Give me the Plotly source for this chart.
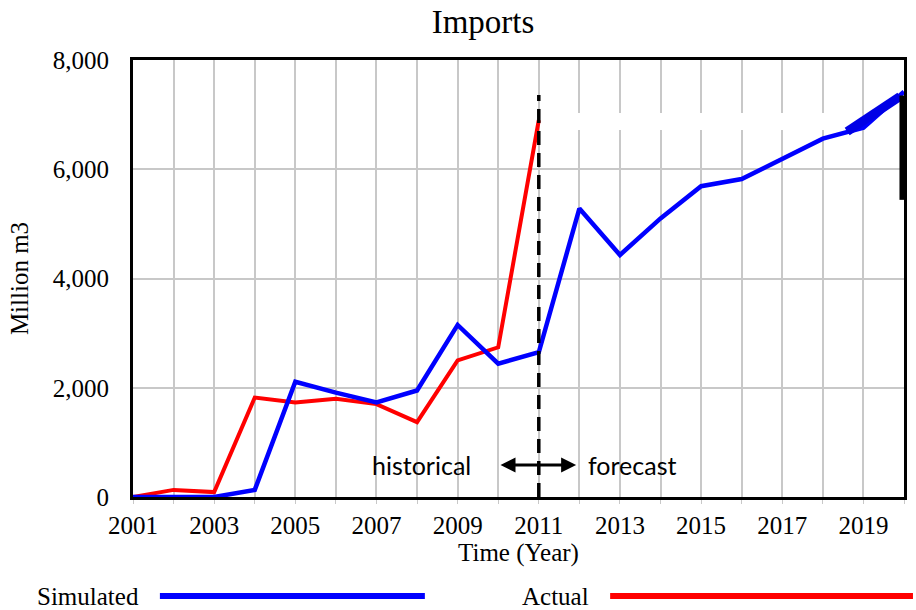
import plotly.graph_objects as go

years = list(range(2001, 2021))
simulated = [0, 0, 0, 130, 2110, 1910, 1730, 1950, 3150, 2440, 2650, 5280, 4430, 5100, 5690, 5820, 6200, 6560, 6760, 7420]
actual_years = list(range(2001, 2012))
actual = [0, 130, 90, 1820, 1730, 1800, 1700, 1370, 2500, 2740, 6900]

# overlay artefacts seen in reference
mask_x = [2011.05, 2018.97]
mask_y = [6875, 6875]
dark_x = [2018.6, 2019.9]
dark_y = [6690, 7330]
bar_x = [2019.95, 2019.95]
bar_y = [5440, 7350]

split_year = 2011
x_ticks = list(range(2001, 2021, 2))
y_ticks = [0, 2000, 4000, 6000, 8000]
y_labels = ["0", "2,000", "4,000", "6,000", "8,000"]

serif = "Liberation Serif"
fig = go.Figure()
fig.add_trace(go.Scatter(x=mask_x, y=mask_y, mode="lines",
                         line=dict(color="white", width=17), showlegend=False, hoverinfo="skip"))
fig.add_trace(go.Scatter(x=actual_years, y=actual, mode="lines",
                         line=dict(color="#ff0000", width=4), name="Actual", showlegend=False))
fig.add_trace(go.Scatter(x=years, y=simulated, mode="lines",
                         line=dict(color="#0000ff", width=4.5), name="Simulated", showlegend=False))
fig.add_trace(go.Scatter(x=dark_x, y=dark_y, mode="lines",
                         line=dict(color="#0000e6", width=9), showlegend=False, hoverinfo="skip"))
fig.add_trace(go.Scatter(x=bar_x, y=bar_y, mode="lines",
                         line=dict(color="black", width=5), showlegend=False, hoverinfo="skip"))

# dashed split line
fig.add_shape(type="line", xref="x", yref="y", x0=split_year, x1=split_year, y0=0, y1=7360,
              line=dict(color="black", width=3.5, dash="14px,8px"))

# historical / forecast arrow
fig.add_annotation(xref="x", yref="y", x=2011.92, y=586, ax=2010.02, ay=586,
                   axref="x", ayref="y", text="", showarrow=True, arrowhead=2, arrowsize=1,
                   arrowwidth=3, arrowcolor="black", startarrowhead=2, arrowside="end+start",
                   startarrowsize=1, standoff=0, startstandoff=0)
fig.add_annotation(xref="x", yref="y", x=2009.37, y=586, text="historical", showarrow=False,
                   xanchor="right", yanchor="middle", font=dict(family="Lato", size=25, color="black"))
fig.add_annotation(xref="x", yref="y", x=2012.17, y=586, text="forecast", showarrow=False,
                   xanchor="left", yanchor="middle", font=dict(family="Lato", size=25, color="black"))

# legend (bottom)
ly = (497 - 596) / 437
fig.add_annotation(xref="paper", yref="paper", x=(141 - 133) / 774, y=ly, xanchor="right", yanchor="middle",
                   text="Simulated", showarrow=False, font=dict(family=serif, size=25, color="black"))
fig.add_annotation(xref="paper", yref="paper", x=(522 - 133) / 774, y=ly, xanchor="left", yanchor="middle",
                   text="Actual", showarrow=False, font=dict(family=serif, size=25, color="black"))
fig.add_shape(type="line", xref="paper", yref="paper", x0=(160 - 133) / 774, x1=(426 - 133) / 774,
              y0=ly, y1=ly, line=dict(color="#0000ff", width=6))
fig.add_shape(type="line", xref="paper", yref="paper", x0=(612 - 133) / 774, x1=(916 - 133) / 774,
              y0=ly, y1=ly, line=dict(color="#ff0000", width=6))

fig.update_layout(
    width=916, height=610,
    margin=dict(l=133, r=9, t=60, b=113),
    plot_bgcolor="white", paper_bgcolor="white",
    title=dict(text="Imports", x=483 / 916, xanchor="center", y=1 - 21 / 610, yanchor="middle",
               font=dict(family=serif, size=33, color="black")),
    font=dict(family=serif, color="black"),
    xaxis=dict(range=[2001, 2020], tickvals=x_ticks, ticktext=[str(v) for v in x_ticks],
               showgrid=True, gridcolor="#c8c8c8", gridwidth=2,
               minor=dict(dtick=1, tick0=2001, showgrid=True, gridcolor="#c8c8c8", gridwidth=2,
                          ticks="outside", ticklen=4, tickcolor="#c8c8c8"),
               ticks="outside", ticklen=4, tickcolor="#c8c8c8",
               showline=True, linecolor="black", linewidth=3, mirror=True,
               zeroline=False, tickfont=dict(family=serif, size=25, color="black"),
               title=dict(text="Time (Year)", font=dict(family=serif, size=25), standoff=4)),
    yaxis=dict(range=[0, 8000], tickvals=y_ticks, ticktext=y_labels,
               showgrid=True, gridcolor="#c8c8c8", gridwidth=2,
               showline=True, linecolor="black", linewidth=3, mirror=True,
               zeroline=False, tickfont=dict(family=serif, size=25, color="black"),
               ticks="", ticklabelstandoff=16,
               title=dict(text="Million m3", font=dict(family=serif, size=25), standoff=18)),
)

fig.write_html("out.html", config={"displayModeBar": False},
               post_script="document.body.style.margin='0';document.body.style.padding='0';"
                           "document.body.style.overflow='hidden';")
